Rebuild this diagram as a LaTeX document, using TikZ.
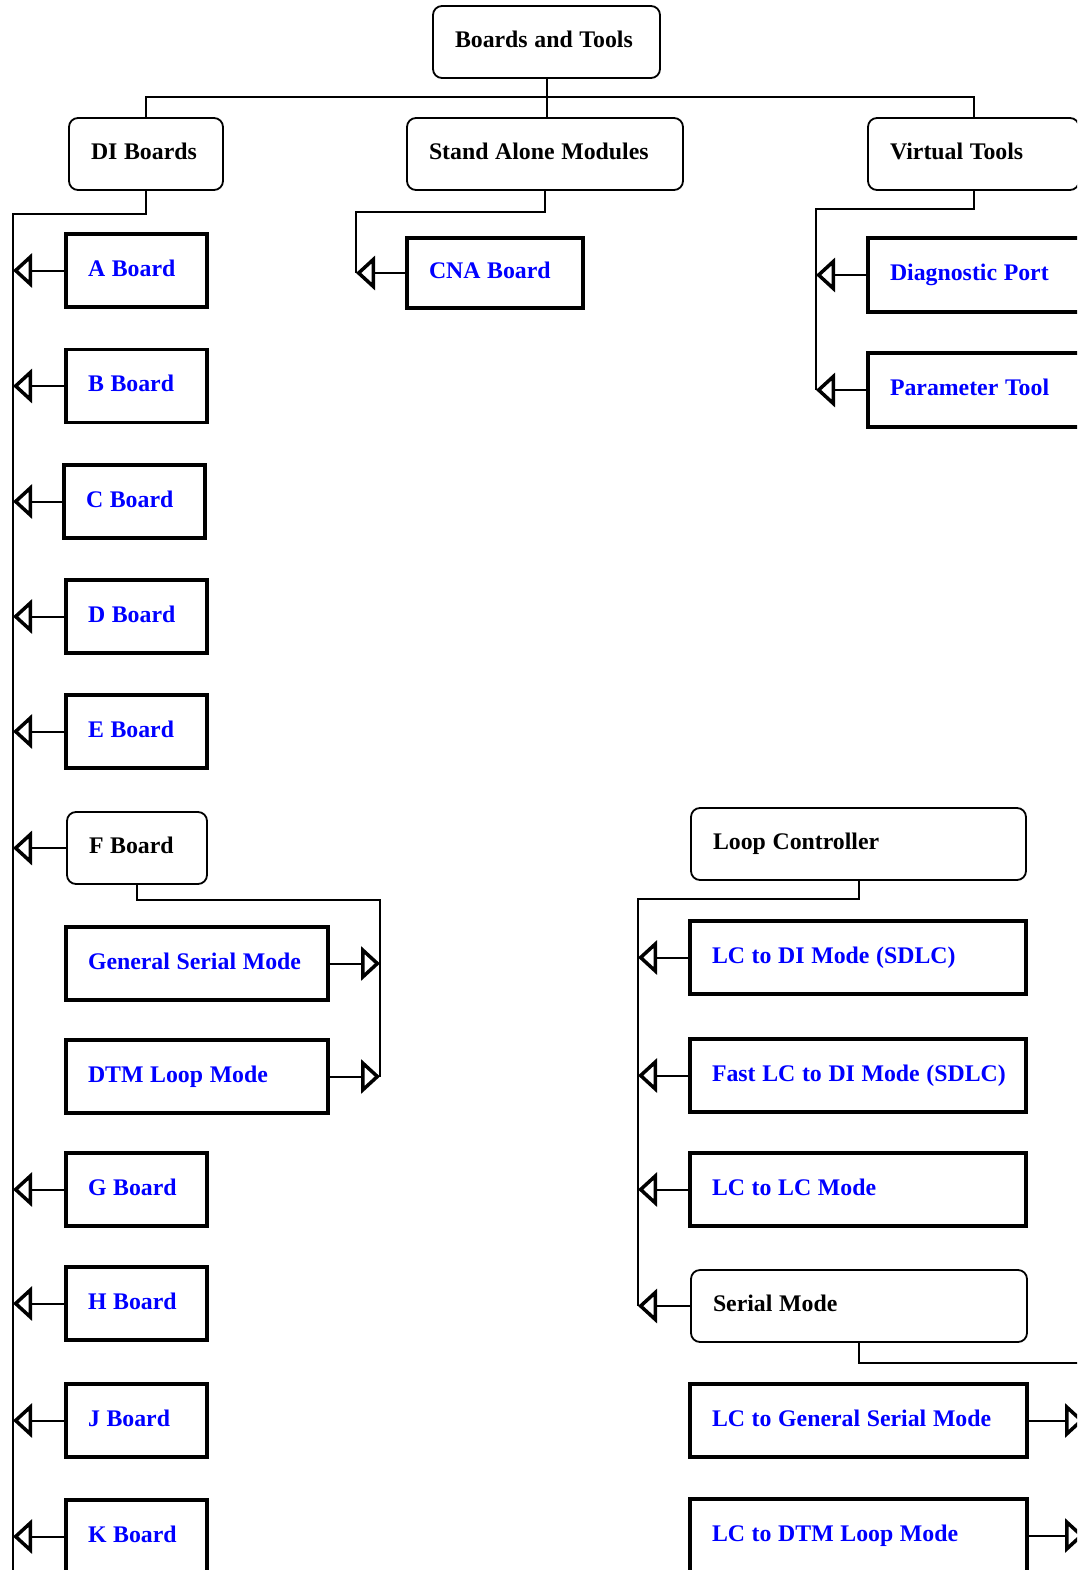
\documentclass[tikz,border=0pt]{standalone}
\usepackage{fontspec}
\setmainfont{Liberation Serif}
\usetikzlibrary{arrows.meta}
\definecolor{textblue}{RGB}{0,0,255}
\begin{document}
\begin{tikzpicture}[x=1pt,y=-1pt,
  base/.style={font=\fontsize{23.8}{28}\selectfont\bfseries, inner xsep=22pt, inner ysep=0pt,
    align=left, text height=16.5pt, text depth=5pt,
    execute at begin node={\spaceskip=0.28em\relax\leavevmode\hbox\bgroup}, execute at end node={\egroup}},
  rbox/.style={base, draw, line width=1.8pt, rounded corners=9pt},
  tbox/.style={base, draw, line width=3.5pt, text=textblue},
  conn/.style={line width=2pt},
  harrow/.style={conn, -{Triangle[open, length=19pt, width=34pt, line width=3.5pt]}},
  sz/.style n args={2}{minimum width=#1pt, minimum height=#2pt, text width=#1pt-44pt}
]
\useasboundingbox (0,0) rectangle (1077,1570);
\clip (0,0) rectangle (1077,1570);
\fill[white] (0,0) rectangle (1077,1570);

% top tree
\node[rbox, sz={227}{72}] (BT) at (546.5,42) {Boards and Tools};
\node[rbox, sz={154}{72}] (DI) at (146,154) {DI Boards};
\node[rbox, sz={276}{72}] (SAM) at (545,154) {Stand Alone Modules};
\node[rbox, sz={211}{72}] (VT) at (973.5,154) {Virtual Tools};

% DI boards
\node[tbox, sz={141}{73}] (A) at (136.5,270.5) {A Board};
\node[tbox, sz={141}{73}] (B) at (136.5,386) {B Board};
\node[tbox, sz={141}{73}] (C) at (134.5,501.5) {C Board};
\node[tbox, sz={141}{73}] (D) at (136.5,616.5) {D Board};
\node[tbox, sz={141}{73}] (E) at (136.5,731.5) {E Board};
\node[rbox, sz={140}{72}] (F) at (137,848) {F Board};
\node[tbox, sz={262}{73}] (GSM) at (197,963.5) {General Serial Mode};
\node[tbox, sz={262}{73}] (DTM) at (197,1076.5) {DTM Loop Mode};
\node[tbox, sz={141}{73}] (G) at (136.5,1189.5) {G Board};
\node[tbox, sz={141}{73}] (H) at (136.5,1303.5) {H Board};
\node[tbox, sz={141}{73}] (J) at (136.5,1420.5) {J Board};
\node[tbox, sz={141}{73}] (K) at (136.5,1536.5) {K Board};

% stand alone
\node[tbox, sz={176}{70}] (CNA) at (495,273) {CNA Board};

% virtual tools
\node[tbox, sz={214}{74}] (DP) at (975,275) {Diagnostic Port};
\node[tbox, sz={214}{74}] (PT) at (975,390) {Parameter Tool};

% loop controller
\node[rbox, sz={335}{72}] (LC) at (858.5,844) {Loop Controller};
\node[tbox, sz={336}{73}] (LCDI) at (858,957.5) {LC to DI Mode (SDLC)};
\node[tbox, sz={336}{73}] (FLC) at (858,1075.5) {Fast LC to DI Mode (SDLC)};
\node[tbox, sz={336}{73}] (LCLC) at (858,1189.5) {LC to LC Mode};
\node[rbox, sz={336}{72}] (SM) at (859,1306) {Serial Mode};
\node[tbox, sz={337}{73}] (LCGS) at (858.5,1420.5) {LC to General Serial Mode};
\node[tbox, sz={337}{73}] (LCDTM) at (858.5,1535.5) {LC to DTM Loop Mode};

% top connectors
\coordinate (bus) at (0,97);
\draw[conn] (BT.south) -- (BT.south |- SAM.north);
\draw[conn] (DI.north) -- (DI.north |- bus) -- (VT.north |- bus) -- (VT.north);

% DI spine
\coordinate (disp) at (13,214);
\coordinate (diend) at (13,1580);
\draw[conn] (DI.south) |- (disp) -- (diend);
\foreach \n in {A,B,C,D,E,F,G,H,J,K}
  \draw[harrow] (\n.west) -- (\n.west -| disp);

% F spine
\coordinate (fsp) at (380,900);
\draw[conn] (F.south) |- (fsp) -- (fsp |- DTM.east);
\foreach \n in {GSM,DTM}
  \draw[harrow] (\n.east) -- (\n.east -| fsp);

% SAM spine
\coordinate (samsp) at (356,212);
\draw[conn] (SAM.south) |- (samsp) -- (samsp |- CNA.west);
\draw[harrow] (CNA.west) -- (CNA.west -| samsp);

% VT spine
\coordinate (vtsp) at (816,209);
\draw[conn] (VT.south) |- (vtsp) -- (vtsp |- PT.west);
\foreach \n in {DP,PT}
  \draw[harrow] (\n.west) -- (\n.west -| vtsp);

% LC spine
\coordinate (lcsp) at (638,899);
\draw[conn] (LC.south) |- (lcsp) -- (lcsp |- SM.west);
\foreach \n in {LCDI,FLC,LCLC,SM}
  \draw[harrow] (\n.west) -- (\n.west -| lcsp);

% SM spine
\coordinate (smsp) at (1084,1363);
\draw[conn] (SM.south) |- (smsp) -- (smsp |- LCDTM.east);
\foreach \n in {LCGS,LCDTM}
  \draw[harrow] (\n.east) -- (\n.east -| smsp);
\end{tikzpicture}
\end{document}
